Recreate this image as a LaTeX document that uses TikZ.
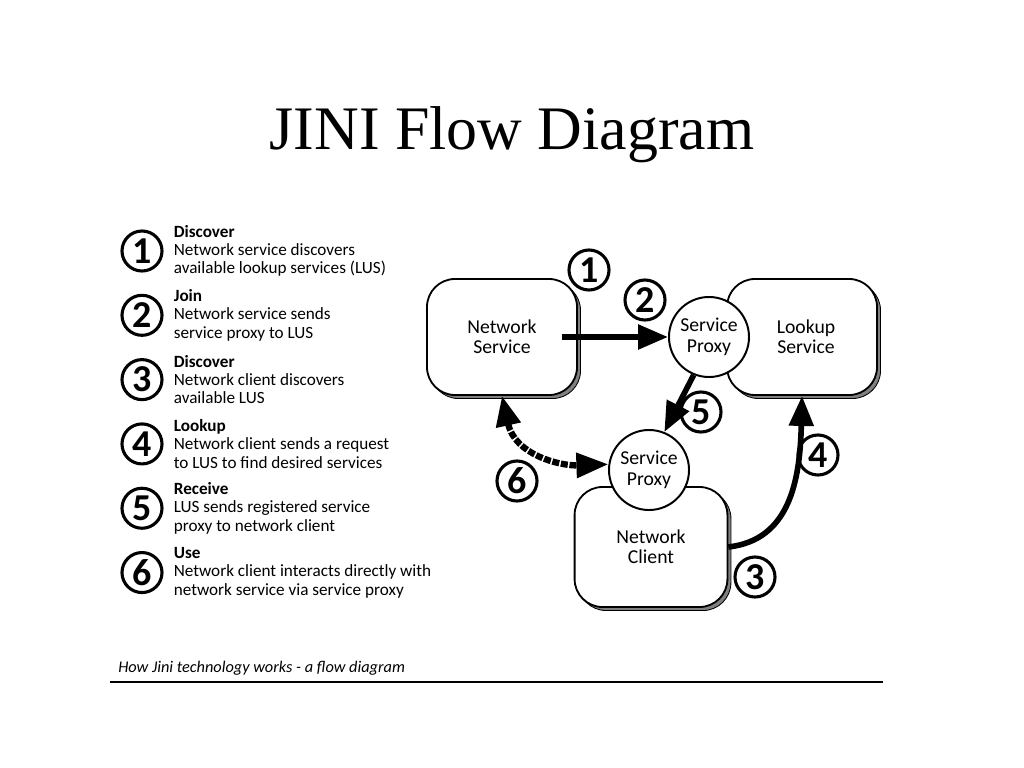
\documentclass[tikz,border=0pt]{standalone}
\usepackage{fontspec}
\setmainfont{Liberation Serif}
\newfontfamily\sinserif{Carlito}
\usetikzlibrary{arrows.meta, positioning, shadows}

\begin{document}
\begin{tikzpicture}
        [
        x=0.025cm, y=-0.025cm,
        node distance=0.53cm and 0.25cm,
            numero/.style={
                circle,
                draw,
                line width=2.2pt,
                fill=white,
                minimum size=1cm,
                inner sep=0pt,
                font=\sinserif\bfseries\fontsize{27}{27}\selectfont
            },
            leyenda/.style={
                align=left,
                inner sep=0pt,
                font=\sinserif\fontsize{12.2}{13}\selectfont
            },
            caja/.style={
                rectangle,
                rounded corners=0.7cm,
                draw,
                line width=1.3pt,
                fill=white,
                align=center,
                minimum width=3.75cm,
                minimum height=2.9cm,
                font=\sinserif\fontsize{14}{14.5}\selectfont,
                drop shadow={shadow xshift=2.5pt, shadow yshift=-2.5pt, fill=gray, draw=black, line width=0.6pt, opacity=1}
            },
            proxy/.style={
                circle,
                draw,
                line width=1.4pt,
                fill=white,
                align=center,
                minimum size=2cm,
                inner sep=0pt,
                font=\sinserif\fontsize{14}{14.5}\selectfont
            },
            flechaGruesa/.style={
                -{Triangle[length=0.75cm,width=0.6cm]},
                line width=4pt
            },
            flechaDoble/.style={
                {Triangle[length=0.75cm,width=0.6cm]}-{Triangle[length=0.8cm,width=0.6cm]},
                line width=4.5pt,
                dash pattern=on 5pt off 1.2pt
            }
        ]
        \useasboundingbox (0,0) rectangle (1024,768);
        \node(titulo) at (512,135) {\fontsize{44}{44}\selectfont JINI Flow Diagram};

        % leyenda
        \node(l1) [numero] at (142,251) {1};
        \node(l2) [numero, below=of l1] {2};
        \node(l3) [numero, below=of l2] {3};
        \node(l4) [numero, below=of l3] {4};
        \node(l5) [numero, below=of l4] {5};
        \node(l6) [numero, below=of l5] {6};
        \node(t1) [leyenda, right=of l1] {\textbf{Discover}\\Network service discovers\\available lookup services (LUS)};
        \node(t2) [leyenda, right=of l2] {\textbf{Join}\\Network service sends\\service proxy to LUS};
        \node(t3) [leyenda, right=of l3] {\textbf{Discover}\\Network client discovers\\available LUS};
        \node(t4) [leyenda, right=of l4] {\textbf{Lookup}\\Network client sends a request\\to LUS to find desired services};
        \node(t5) [leyenda, right=of l5] {\textbf{Receive}\\LUS sends registered service\\proxy to network client};
        \node(t6) [leyenda, right=of l6] {\textbf{Use}\\Network client interacts directly with\\network service via service proxy};

        % diagrama
        \node(ns) [caja] at (502,337) {Network\\Service};
        \node(lus) [caja] at (802,337) {\hspace*{0.2cm}Lookup\\\hspace*{0.2cm}Service};
        \node(proxyA) [proxy] at (709,337) {Service\\Proxy};
        \node(nc) [caja, minimum width=3.82cm, minimum height=3cm] at (651,547) {Network\\Client};
        \node(proxyB) [proxy] at (649,470) {Service\\Proxy};

        \node(n1) [numero] at (589,270) {1};
        \node(n2) [numero] at (645,300) {2};
        \node(n3) [numero] at (755,577) {3};
        \node(n4) [numero] at (818,455) {4};
        \node(n5) [numero] at (701,412) {5};
        \node(n6) [numero] at (517,481) {6};

        \draw[flechaGruesa] ([xshift=-0.4cm]ns.east)--(proxyA.west);
        \draw[flechaGruesa] (proxyA.-112)--(proxyB.68);
        \draw[flechaGruesa] (nc.east) .. controls (790,540) and (800,480) .. (lus.south);
        \draw[flechaDoble] (ns.south) .. controls (515,455) and (560,466) .. (proxyB.172);

        % pie
        \node(pie) [anchor=west, inner sep=0pt, font=\sinserif\itshape\fontsize{11.6}{11.6}\selectfont] at (118,668) {How Jini technology works - a flow diagram};
        \draw[line width=1.4pt] (110,682)--(883,682);
    \end{tikzpicture}
\end{document}
